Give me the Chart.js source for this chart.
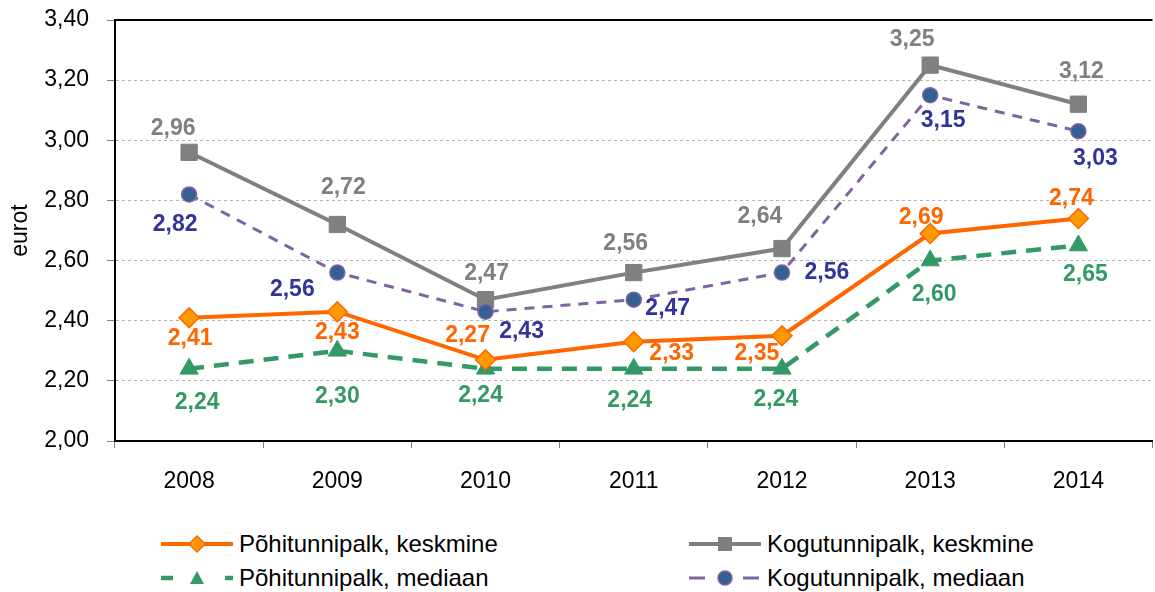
<!DOCTYPE html>
<html>
<head>
<meta charset="utf-8">
<script src="https://cdn.jsdelivr.net/npm/chart.js@4/dist/chart.umd.min.js"></script>
<style>
  body { margin: 0; background: #fff; overflow: hidden; width: 1155px; height: 592px; position: relative; }
  #wrap { position: absolute; left: 0; top: 0; width: 1165px; height: 500px; }
  .item { position: absolute; display: flex; align-items: center; height: 30px;
          font: 24px 'Liberation Sans', Arial, sans-serif; color: #000; white-space: nowrap; }
  .item svg { margin-right: 6px; }
</style>
</head>
<body>
<div id="wrap"><canvas id="graafik"></canvas></div>
<div id="legend"></div>
<script>
const aastad = ['2008', '2009', '2010', '2011', '2012', '2013', '2014'];
const pohiKeskmine = [2.41, 2.43, 2.27, 2.33, 2.35, 2.69, 2.74];
const koguKeskmine = [2.96, 2.72, 2.47, 2.56, 2.64, 3.25, 3.12];
const pohiMediaan = [2.24, 2.30, 2.24, 2.24, 2.24, 2.60, 2.65];
const koguMediaan = [2.82, 2.56, 2.43, 2.47, 2.56, 3.15, 3.03];
const yMin = 2.0;
const yMax = 3.4;
const ySamm = 0.2;

// sildi nihe punktist (dx, dy) pikslites
const nihePohiKeskmine = [[1, 21], [0, 21], [-18, -24], [38, 12], [-25, 18], [-9, -16], [-7, -20]];
const niheKoguKeskmine = [[-16, -24], [6, -37], [1, -26], [-8, -29], [-22, -32], [-18, -25], [3, -33]];
const nihePohiMediaan = [[8, 34], [0, 46], [-5, 27], [-4, 32], [-6, 31], [4, 34], [7, 29]];
const niheKoguMediaan = [[-14, 30], [-45, 17], [36, 20], [34, 9], [45, 0], [13, 25], [17, 27]];

const kiri = "'Liberation Sans', Arial, sans-serif";
const koma = v => v.toFixed(2).replace('.', ',');

// andmesildid
const sildid = {
  id: 'sildid',
  afterDatasetsDraw(chart) {
    const ctx = chart.ctx;
    chart.data.datasets.forEach((ds, i) => {
      const meta = chart.getDatasetMeta(i);
      meta.data.forEach((pt, j) => {
        const [dx, dy] = ds.nihe[j];
        ctx.save();
        ctx.font = 'bold 23px ' + kiri;
        ctx.fillStyle = ds.sildiVarv;
        ctx.textAlign = 'center';
        ctx.textBaseline = 'middle';
        ctx.fillText(koma(ds.data[j]), pt.x + dx, pt.y + dy);
        ctx.restore();
      });
    });
  }
};

// ülemine raamijoon
const raam = {
  id: 'raam',
  beforeDatasetsDraw(chart) {
    const { ctx, chartArea } = chart;
    ctx.save();
    ctx.strokeStyle = '#000';
    ctx.lineWidth = 2;
    ctx.beginPath();
    ctx.moveTo(chartArea.left, chartArea.top);
    ctx.lineTo(chartArea.right, chartArea.top);
    ctx.stroke();
    ctx.restore();
  }
};

const andmed = [
  {
    label: 'Põhitunnipalk, keskmine', data: pohiKeskmine, nihe: nihePohiKeskmine, sildiVarv: '#FF6600',
    borderColor: '#FF6600', borderWidth: 4, pointStyle: 'rectRot', pointRadius: 10,
    pointBackgroundColor: '#FF9900', pointBorderColor: '#FF6600', pointBorderWidth: 1.5, order: 1,
    leg: { dash: '', marker: 'diamond' }
  },
  {
    label: 'Kogutunnipalk, keskmine', data: koguKeskmine, nihe: niheKoguKeskmine, sildiVarv: '#808080',
    borderColor: '#808080', borderWidth: 4, pointStyle: 'rect', pointRadius: 11.5,
    pointBackgroundColor: '#808080', pointBorderColor: '#808080', pointBorderWidth: 1, order: 4,
    leg: { dash: '', marker: 'square' }
  },
  {
    label: 'Põhitunnipalk, mediaan', data: pohiMediaan, nihe: nihePohiMediaan, sildiVarv: '#339966',
    borderColor: '#339966', borderWidth: 4.5, borderDash: [15, 10], pointStyle: 'triangle', pointRadius: 10.5,
    pointBackgroundColor: '#339966', pointBorderColor: '#339966', pointBorderWidth: 1, order: 2,
    leg: { dash: '12 52', marker: 'triangle' }
  },
  {
    label: 'Kogutunnipalk, mediaan', data: koguMediaan, nihe: niheKoguMediaan, sildiVarv: '#333399',
    borderColor: '#8064A2', borderWidth: 3, borderDash: [10, 8], pointStyle: 'circle', pointRadius: 7.5,
    pointBackgroundColor: '#376092', pointBorderColor: '#8064A2', pointBorderWidth: 1.5, order: 3,
    leg: { dash: '16 38', marker: 'circle' }
  }
];

const graafik = new Chart(document.getElementById('graafik'), {
  type: 'line',
  data: { labels: aastad, datasets: andmed },
  options: {
    responsive: true,
    maintainAspectRatio: false,
    animation: false,
    layout: { padding: { top: 20, right: 3, bottom: 0, left: 0 } },
    plugins: { legend: { display: false }, tooltip: { enabled: false } },
    scales: {
      x: {
        offset: true,
        ticks: { font: { family: kiri, size: 23 }, color: '#000', padding: 20 },
        grid: { offset: true, drawOnChartArea: false, tickLength: 7, tickColor: '#808080', tickWidth: 1 },
        border: { color: '#000', width: 2 },
        afterFit(scale) { scale.height = 59; }
      },
      y: {
        min: yMin, max: yMax,
        ticks: { stepSize: ySamm, font: { family: kiri, size: 23 }, color: '#000', padding: 18, callback: v => koma(v) },
        grid: { color: '#b3b3b3', lineWidth: 1, tickLength: 8, tickColor: '#808080' },
        border: { color: '#000', width: 2, dash: [3, 3] },
        title: { display: true, text: 'eurot', font: { family: kiri, size: 23 }, color: '#000', padding: { top: 7, bottom: 0 } },
        afterFit(scale) {
          scale.width = 115;
          scale.paddingTop = 0;
          scale.paddingBottom = 0;
        }
      }
    }
  },
  plugins: [raam, sildid]
});

// legend HTML-ina
function markerSvg(ds) {
  const c = ds.pointBackgroundColor, b = ds.pointBorderColor;
  switch (ds.leg.marker) {
    case 'diamond': return `<polygon points="36,7 44,15 36,23 28,15" fill="${c}" stroke="${b}" stroke-width="1.5"/>`;
    case 'square': return `<rect x="29" y="8" width="14" height="14" fill="${c}"/>`;
    case 'triangle': return `<polygon points="36,8 43,21 29,21" fill="${c}"/>`;
    default: return `<circle cx="36" cy="15" r="7" fill="${c}" stroke="${b}" stroke-width="1.5"/>`;
  }
}

const kohad = [[161, 529], [689, 529], [161, 563], [689, 563]];
const legend = document.getElementById('legend');
andmed.forEach((ds, i) => {
  const div = document.createElement('div');
  div.className = 'item';
  div.style.left = kohad[i][0] + 'px';
  div.style.top = kohad[i][1] + 'px';
  const dash = ds.leg.dash ? `stroke-dasharray="${ds.leg.dash}"` : '';
  div.innerHTML = `<svg width="72" height="30"><line x1="0" y1="15" x2="72" y2="15" stroke="${ds.borderColor}" stroke-width="${ds.borderWidth}" ${dash}/>${markerSvg(ds)}</svg>`;
  const span = document.createElement('span');
  span.textContent = ds.label;
  div.appendChild(span);
  legend.appendChild(div);
});
</script>
</body>
</html>
